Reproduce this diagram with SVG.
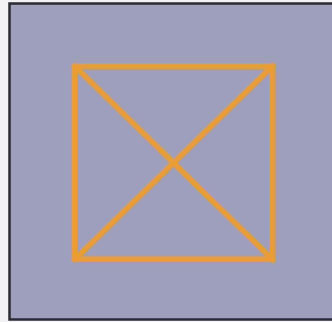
<svg xmlns="http://www.w3.org/2000/svg" width="332" height="322" viewBox="0 0 332 322">
<style>
.fig{fill:none;stroke:#e99d34;stroke-width:5.5;stroke-linecap:square}
</style>
<rect x="0" y="0" width="332" height="322" fill="#f2f2f4"/>
<rect x="9.5" y="3.5" width="330" height="316" fill="#9e9fbc" stroke="#2a2a33" stroke-width="2.5"/>
<g id="square">
<rect class="fig" x="74.5" y="66" width="197.5" height="193"/>
</g>
<g id="diagonals">
<line class="fig" x1="74.5" y1="66" x2="272" y2="259"/>
<line class="fig" x1="272" y1="66" x2="74.5" y2="259"/>
</g>
</svg>
